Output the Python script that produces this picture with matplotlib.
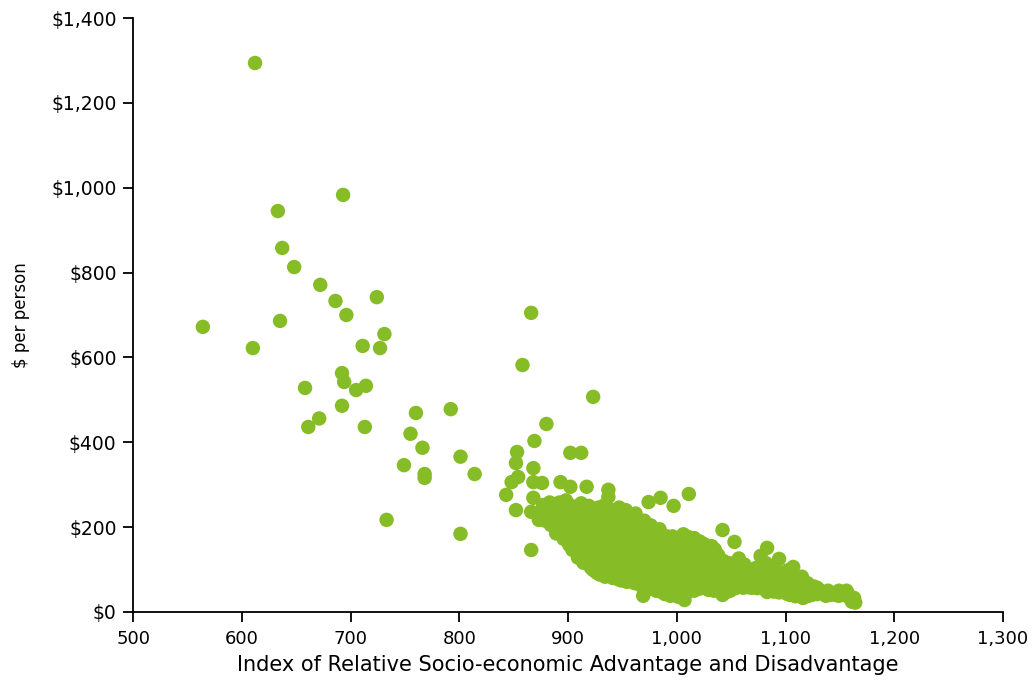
import matplotlib.pyplot as plt
from matplotlib.ticker import FuncFormatter, MultipleLocator


# =========================
# 1. Data: IRSAD score vs spending per person
# =========================

# scattered areas away from the main cloud
outlier_irsad = [
    612, 693, 633, 637, 648, 672, 686, 724, 696, 731,
    564, 610, 635, 711, 727, 692, 694, 658, 705, 714,
    692, 760, 661, 671, 713, 755, 766, 792, 749, 768,
    768, 801, 814, 733, 801, 866, 858, 923, 880, 869,
    853, 852, 902, 912, 868, 848, 854, 843, 852, 866,
    868, 876, 868, 866, 893, 902, 917, 937, 937, 974,
    985, 997, 1011, 1042, 1053, 1083, 1077, 1094, 1107, 1115,
    1129, 1137, 1149, 1156, 1161, 1103, 1116, 1083, 1042, 969,
    1007, 879, 882, 873, 923,
]
outlier_cost = [
    1294, 983, 945, 858, 813, 771, 733, 742, 700, 655,
    672, 622, 686, 627, 622, 563, 542, 528, 523, 533,
    486, 469, 436, 456, 436, 420, 387, 478, 346, 325,
    316, 366, 325, 217, 184, 705, 582, 507, 443, 403,
    377, 351, 375, 375, 339, 306, 318, 276, 240, 146,
    306, 304, 269, 236, 306, 295, 295, 288, 271, 259,
    269, 250, 278, 193, 165, 151, 132, 125, 106, 83,
    57, 38, 50, 50, 24, 45, 33, 47, 40, 38,
    28, 240, 222, 217, 99,
]

# the dense band of areas between roughly 870 and 1170
cluster_irsad = [
    874, 877,
    884, 887, 883,
    896, 893, 897, 894, 898,
    904, 906, 903, 907, 905,
    914, 916, 913, 917, 915, 918, 912,
    926, 924, 927, 923, 926, 924, 928,
    934, 936, 933, 937, 935, 934, 938, 933,
    946, 944, 947, 943, 946, 945, 944, 947,
    954, 956, 953, 957, 955, 954, 956, 953,
    966, 964, 967, 963, 965, 966, 964, 962,
    974, 976, 973, 977, 975, 974, 976,
    986, 984, 987, 983, 985, 986, 984,
    994, 996, 993, 997, 995, 994, 996,
    1004, 1006, 1003, 1007, 1005, 1004, 1006,
    1016, 1014, 1017, 1013, 1015, 1016,
    1024, 1026, 1023, 1027, 1025,
    1034, 1036, 1033, 1037, 1035,
    1046, 1044, 1047, 1043,
    1054, 1056, 1053, 1057,
    1066, 1064, 1067,
    1074, 1076, 1073,
    1086, 1084, 1087,
    1094, 1096, 1093,
    1104, 1106, 1103,
    1116, 1114,
    1124, 1126,
    1134, 1146, 1154,
    1163, 1164,
    # second, staggered layer of the band
    879, 882,
    889, 891, 888, 892,
    901, 899, 902, 898, 900,
    909, 911, 908, 912, 910, 909,
    921, 919, 922, 918, 920, 921, 919,
    929, 931, 928, 932, 930, 929, 931,
    941, 939, 940, 942, 938, 941, 939, 940,
    949, 951, 950, 948, 952, 949, 951, 950,
    961, 959, 960, 962, 958, 961, 959, 960,
    969, 971, 970, 968, 972, 969, 971, 970,
    981, 979, 980, 982, 978, 981, 979,
    989, 991, 990, 988, 992, 989, 991,
    1001, 999, 1000, 1002, 998, 1001, 999,
    1009, 1011, 1010, 1008, 1012, 1009, 1011,
    1021, 1019, 1020, 1022, 1018, 1021,
    1029, 1031, 1030, 1028, 1032,
    1041, 1039, 1040, 1042, 1038,
    1049, 1051, 1050, 1048,
    1061, 1059, 1060, 1062,
    1069, 1071, 1070,
    1081, 1079, 1080, 1082,
    1089, 1091, 1090, 1088,
    1101, 1099, 1100, 1102,
    1109, 1111, 1110,
    1121, 1119, 1120,
    1129, 1131,
    1141, 1139,
    1149, 1151,
    1158, 1157,
]
cluster_cost = [
    228, 252,
    205, 232, 258,
    172, 197, 222, 246, 263,
    146, 170, 196, 221, 244,
    116, 141, 166, 190, 214, 239, 256,
    93, 119, 144, 170, 196, 221, 246,
    83, 106, 131, 156, 181, 206, 230, 251,
    77, 101, 126, 151, 176, 201, 226, 246,
    71, 96, 121, 146, 171, 194, 219, 240,
    64, 89, 114, 139, 164, 189, 214, 232,
    54, 79, 104, 129, 154, 179, 204,
    47, 72, 97, 122, 147, 171, 195,
    38, 62, 88, 112, 137, 161, 178,
    42, 66, 91, 116, 141, 165, 183,
    50, 75, 100, 125, 150, 174,
    60, 85, 110, 135, 160,
    50, 74, 98, 122, 147,
    47, 70, 95, 120,
    56, 80, 104, 126,
    58, 80, 100,
    56, 80, 104,
    50, 75, 100,
    46, 70, 95,
    40, 62, 88,
    34, 58,
    40, 60,
    44, 40, 42,
    33, 22,
    # second layer
    215, 240,
    185, 210, 235, 258,
    158, 183, 208, 233, 255,
    128, 153, 178, 203, 228, 250,
    104, 129, 155, 180, 205, 230, 250,
    88, 112, 138, 163, 188, 213, 238,
    80, 93, 118, 143, 168, 193, 218, 240,
    74, 88, 113, 138, 163, 188, 213, 235,
    68, 82, 107, 132, 157, 182, 206, 226,
    58, 72, 97, 122, 147, 172, 196, 215,
    50, 63, 88, 113, 138, 163, 186,
    42, 55, 80, 105, 130, 155, 178,
    36, 52, 78, 103, 128, 153, 172,
    45, 58, 83, 108, 133, 158, 176,
    55, 72, 97, 122, 147, 166,
    52, 73, 110, 135, 155,
    48, 62, 86, 110, 134,
    50, 68, 92, 115,
    57, 70, 92, 112,
    57, 68, 92,
    53, 64, 90, 115,
    48, 58, 82, 108,
    43, 55, 78, 98,
    37, 50, 72,
    38, 52, 68,
    42, 52,
    40, 50,
    38, 46,
    35, 45,
]

irsad = outlier_irsad + cluster_irsad
cost = outlier_cost + cluster_cost

x_ticks = [500, 600, 700, 800, 900, 1000, 1100, 1200, 1300]


# =========================
# 2. Plot
# =========================

dot_color = "#86BC25"

fig = plt.figure(figsize=(10.33, 6.93), dpi=100)
ax = fig.add_axes([0.129, 0.117, 0.842, 0.857])

ax.scatter(irsad, cost, s=108, color=dot_color, edgecolors="none", zorder=3)

ax.set_xlim(500, 1300)
ax.set_ylim(0, 1400)
ax.set_xticks(x_ticks)
ax.yaxis.set_major_locator(MultipleLocator(200))

ax.xaxis.set_major_formatter(FuncFormatter(lambda v, pos: f"{v:,.0f}"))
ax.yaxis.set_major_formatter(FuncFormatter(lambda v, pos: f"${v:,.0f}"))

for side in ["top", "right"]:
    ax.spines[side].set_visible(False)
for side in ["left", "bottom"]:
    ax.spines[side].set_linewidth(1.3)
    ax.spines[side].set_color("black")

ax.tick_params(axis="both", direction="out", length=7, width=1.3, colors="black")
ax.tick_params(axis="y", labelsize=13.5, pad=5)
ax.tick_params(axis="x", labelsize=13, pad=6)

ax.set_xlabel("Index of Relative Socio-economic Advantage and Disadvantage",
              fontsize=15, labelpad=5)
ax.set_ylabel("$ per person", fontsize=12, labelpad=15)

fig.savefig("out.png", dpi=100)
